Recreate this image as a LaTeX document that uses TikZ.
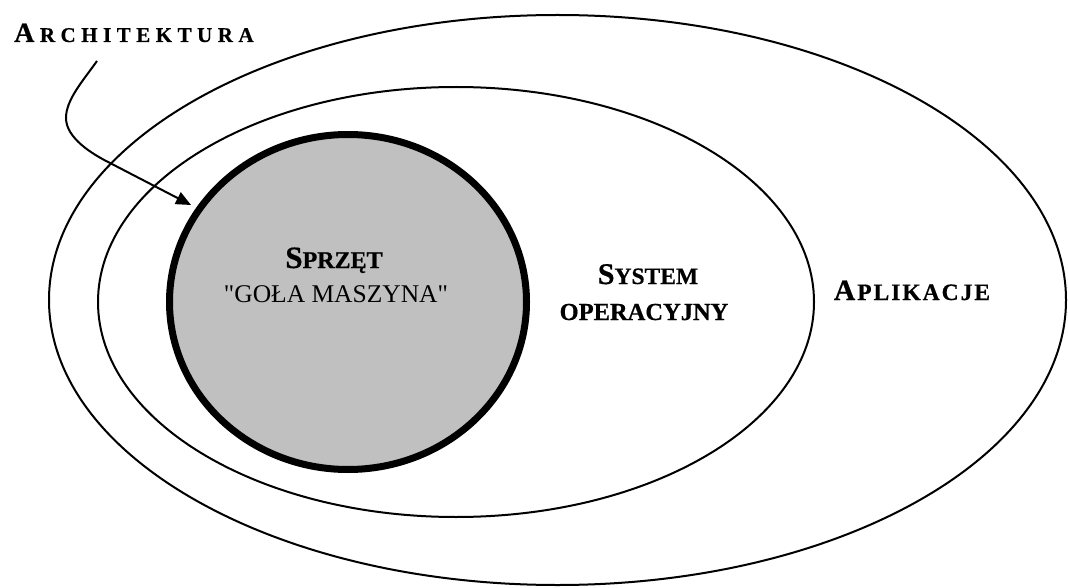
\documentclass[tikz,border=0pt]{standalone}
\usepackage{fontspec}
\setmainfont{Liberation Serif}[Ligatures=TeXOff, BoldFeatures={FakeBold=0.6}]
\usetikzlibrary{arrows.meta,shapes.geometric}
\newcommand\fs[1]{\fontsize{#1}{#1}\selectfont}
\newcommand\tk{\kern5.5pt}
\newcommand\tj{\kern2pt}
\definecolor{hwgray}{HTML}{C0C0C0}
\begin{document}
\begin{tikzpicture}[x=1pt,y=-1pt,
  ring/.style={line width=2pt},
  lbl/.style={anchor=base, inner sep=0pt, font=\bfseries},
  pointer/.style={line width=2pt, -{Triangle[length=15pt,width=13pt]}}
]
\useasboundingbox (0,0) rectangle (1068,588);
\draw[ring] (557.5,300) ellipse [x radius=508.5pt, y radius=285pt];
\draw[ring] (456,302) ellipse [x radius=358pt, y radius=215pt];
\node[ellipse, draw, line width=7pt, fill=hwgray, minimum width=357pt,
      minimum height=335pt, inner sep=0pt] (hw) at (348,302) {};

\node[lbl] (sprzet) at (334,268) {\fs{31}S\fs{24}PRZĘT};
\node[anchor=base, inner sep=0pt, font=\fs{25.5}] (gola) at (336,302) {"GOŁA MASZYNA"};
\node[lbl] (system) at (648,284) {\fs{30}S\fs{23.5}YSTEM};
\node[lbl] (operacyjny) at (644,320) {\fs{24.5}OPERACYJNY};
\node[lbl] (aplikacje) at (912,300)
  {\fs{29.5}A\tj\fs{23.5}P\tj L\tj I\tj K\tj A\tj C\tj J\tj E};
\node[lbl, anchor=base west] (arch) at (14,42)
  {\fs{28}A\fs{21}\tk R\tk C\tk H\tk I\tk T\tk E\tk K\tk T\tk U\tk R\tk A};

\coordinate (start) at (97,61);
\coordinate (tip) at (191,205);
\draw[pointer] (start) .. controls (82,82) and (66,100) .. (66,118)
  .. controls (66,138) and (92,154) .. (110,163) -- (tip);
\end{tikzpicture}
\end{document}
